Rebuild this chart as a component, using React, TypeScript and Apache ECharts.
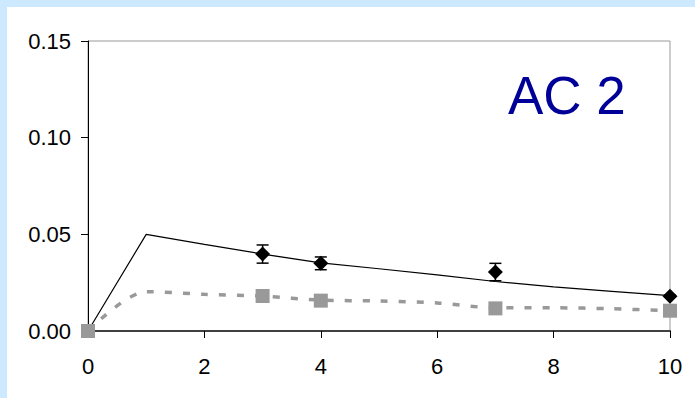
import React, { useEffect, useRef } from "react";
import * as echarts from "echarts";

const xValues = [0, 1, 2, 3, 4, 5, 6, 7, 8, 9, 10];
const modelBlack = [0, 0.05, 0.0448, 0.0398, 0.0352, 0.0322, 0.029, 0.0256, 0.0228, 0.0205, 0.0183];
const modelGrey = [0, 0.0203, 0.019, 0.018, 0.016, 0.0155, 0.0145, 0.012, 0.012, 0.0115, 0.0105];

const obsX = [3, 4, 7, 10];
const obsY = [0.0398, 0.035, 0.0305, 0.018];
const obsErr = [0.0047, 0.0033, 0.0045, 0.0005];

const sqX = [0, 3, 4, 7, 10];
const sqY = [0, 0.0181, 0.0157, 0.0117, 0.0105];

const yTicks = [0, 0.05, 0.1, 0.15];
const xTicks = [0, 2, 4, 6, 8, 10];
const title = "AC 2";

export default function App() {
  const ref = useRef<HTMLDivElement>(null);
  useEffect(() => {
    document.body.style.margin = "0";
    const chart = echarts.init(ref.current!, null, { renderer: "svg" });
    const font = "Liberation Sans, Arial, sans-serif";
    chart.setOption({
      animation: false,
      backgroundColor: "#CCE9FF",
      graphic: [
        { type: "rect", z: -10, silent: true, shape: { x: 7, y: 7, width: 688, height: 391 }, style: { fill: "#ffffff" } },
        {
          type: "text",
          z: 100,
          x: 508,
          y: 95,
          style: { text: title, font: "53px " + font, fill: "#000099", verticalAlign: "middle", align: "left" },
        },
      ],
      grid: { left: 88, right: 25, top: 41, bottom: 67, show: true, borderColor: "#999999", borderWidth: 1, backgroundColor: "#ffffff" },
      xAxis: {
        type: "value",
        min: xTicks[0],
        max: xTicks[xTicks.length - 1],
        interval: 2,
        axisLine: { show: true, onZero: false, lineStyle: { color: "#404040", width: 2 } },
        axisTick: { show: true, length: 7, lineStyle: { color: "#000" } },
        axisLabel: { margin: 24, fontSize: 22, color: "#000", fontFamily: font },
        splitLine: { show: false },
      },
      yAxis: {
        type: "value",
        min: yTicks[0],
        max: yTicks[yTicks.length - 1],
        interval: 0.05,
        axisLine: { show: true, onZero: false, lineStyle: { color: "#000", width: 1 } },
        axisTick: { show: true, length: 7, lineStyle: { color: "#000" } },
        axisLabel: { margin: 17, fontSize: 22, color: "#000", fontFamily: font, formatter: (v: number) => v.toFixed(2) },
        splitLine: { show: false },
      },
      series: [
        {
          type: "line",
          data: xValues.map((x, i) => [x, modelBlack[i]]),
          showSymbol: false,
          symbol: "none",
          lineStyle: { color: "#000", width: 1.2 },
          z: 3,
        },
        {
          type: "line",
          data: xValues.map((x, i) => [x, modelGrey[i]]),
          showSymbol: false,
          symbol: "none",
          smooth: 0.3,
          lineStyle: { color: "#999999", width: 3.5, type: [7, 11] },
          z: 3,
        },
        {
          type: "custom",
          data: obsX.map((x, i) => [x, obsY[i], obsErr[i]]),
          clip: false,
          z: 4,
          renderItem: (params: any, api: any) => {
            const x = api.value(0);
            const y = api.value(1);
            const e = api.value(2);
            const top = api.coord([x, y + e]);
            const bot = api.coord([x, y - e]);
            const hw = 6;
            const st = { stroke: "#000", lineWidth: 1.5 };
            return {
              type: "group",
              children: [
                { type: "line", shape: { x1: top[0], y1: top[1], x2: bot[0], y2: bot[1] }, style: st },
                { type: "line", shape: { x1: top[0] - hw, y1: top[1], x2: top[0] + hw, y2: top[1] }, style: st },
                { type: "line", shape: { x1: bot[0] - hw, y1: bot[1], x2: bot[0] + hw, y2: bot[1] }, style: st },
              ],
            };
          },
        },
        {
          type: "scatter",
          data: obsX.map((x, i) => [x, obsY[i]]),
          symbol: "diamond",
          symbolSize: [15, 15],
          itemStyle: { color: "#000", opacity: 1 },
          clip: false,
          z: 5,
        },
        {
          type: "scatter",
          data: sqX.map((x, i) => [x, sqY[i]]),
          symbol: "rect",
          symbolSize: 14,
          itemStyle: { color: "#999999", opacity: 1 },
          clip: false,
          z: 5,
        },
      ],
    });
    return () => chart.dispose();
  }, []);
  return <div ref={ref} style={{ width: 695, height: 398 }} />;
}
